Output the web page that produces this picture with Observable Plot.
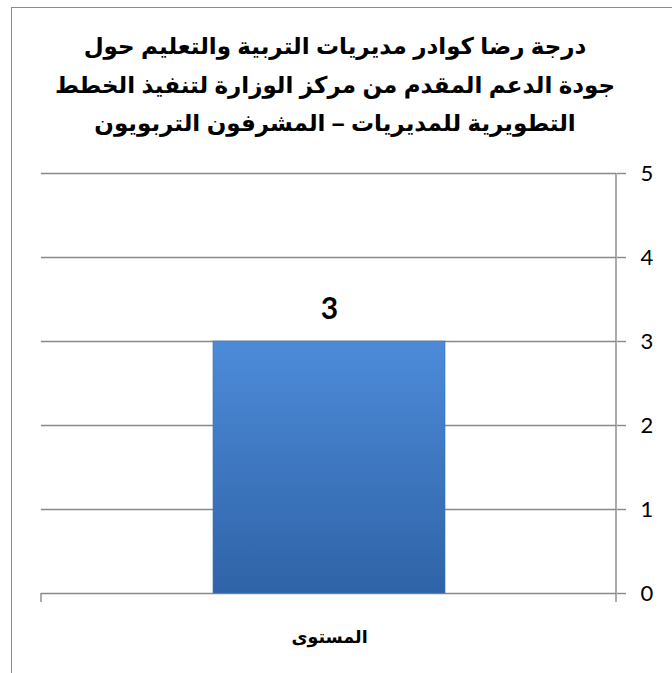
<!DOCTYPE html>
<html><head><meta charset="utf-8">
<script src="https://cdn.jsdelivr.net/npm/d3@7"></script>
<script src="https://cdn.jsdelivr.net/npm/@observablehq/plot@0.6"></script>
<style>
body{margin:0;background:#fff;}
#wrap{position:relative;width:672px;height:673px;overflow:hidden;background:#fff;}
#border{position:absolute;left:11px;top:7px;width:700px;height:700px;border-left:1.5px solid #8c8c8c;border-top:1.5px solid #8c8c8c;}
#wrap svg{position:absolute;left:0;top:0;}
</style></head><body><div id="wrap"><div id="border"></div></div>
<script>
const titleLines = [
  "درجة رضا كوادر مديريات التربية والتعليم حول",
  "جودة الدعم المقدم من مركز الوزارة لتنفيذ الخطط",
  "التطويرية للمديريات – المشرفون التربويون"
];
const categories = ["المستوى"];
const values = [3];
const yTicks = [0, 1, 2, 3, 4, 5];

const data = categories.map((c, i) => ({c, v: values[i]}));
const gridColor = "#898989";
const arFont = "'Liberation Sans', Arial, 'DejaVu Sans', sans-serif";
const numFont = "Lato, 'Open Sans', sans-serif";

const chart = Plot.plot({
  width: 672,
  height: 673,
  marginLeft: 41,
  marginRight: 56,
  marginTop: 173,
  marginBottom: 80,
  style: {background: "transparent", overflow: "visible"},
  x: {domain: categories, padding: 0.425, label: null},
  y: {domain: [0, 5], label: null},
  marks: [
    Plot.ruleY(yTicks, {stroke: gridColor, strokeWidth: 1.4}),
    Plot.barY(data, {x: "c", y: "v", fill: "url(#barGrad)", stroke: "#3a6fb3", strokeWidth: 0.6}),
    Plot.text(data, {x: "c", y: "v", text: d => String(d.v), dy: -32, fontSize: 30, fontWeight: "bold", fontFamily: numFont, fill: "#000"}),
    Plot.axisY(yTicks, {anchor: "right", tickSize: 9, tickPadding: 15, tickFormat: d3.format("d"), fontSize: 22, fontFamily: numFont, stroke: gridColor, strokeWidth: 1.4, fill: "#000", textAnchor: "start"}),
    Plot.axisX({tickSize: 0, tickPadding: 37, fontSize: 17.5, fontWeight: "bold", fontFamily: arFont, fill: "#000"}),
    Plot.text([titleLines.join("\n")], {frameAnchor: "top", dx: 6, dy: -147, fontSize: 23, fontWeight: "bold", fontFamily: arFont, lineHeight: 1.68, fill: "#000", text: d => d})
  ]
});

const svg = d3.select(chart);
const defs = svg.insert("defs", ":first-child");
const g = defs.append("linearGradient").attr("id", "barGrad").attr("x1", 0).attr("y1", 0).attr("x2", 0).attr("y2", 1);
g.append("stop").attr("offset", "0%").attr("stop-color", "#4d8bd9");
g.append("stop").attr("offset", "100%").attr("stop-color", "#2f63a7");

const xs = chart.scale("x"), ys = chart.scale("y");
const y0 = ys.apply(0), yTop = ys.apply(5);
const [xa, xb] = xs.range;
const deco = svg.append("g").attr("stroke", gridColor).attr("stroke-width", 1.4);
deco.append("line").attr("x1", xb).attr("x2", xb).attr("y1", yTop).attr("y2", y0 + 9);
deco.append("line").attr("x1", xa).attr("x2", xa).attr("y1", y0).attr("y2", y0 + 9);

document.getElementById("wrap").appendChild(chart);
</script>
</body></html>
